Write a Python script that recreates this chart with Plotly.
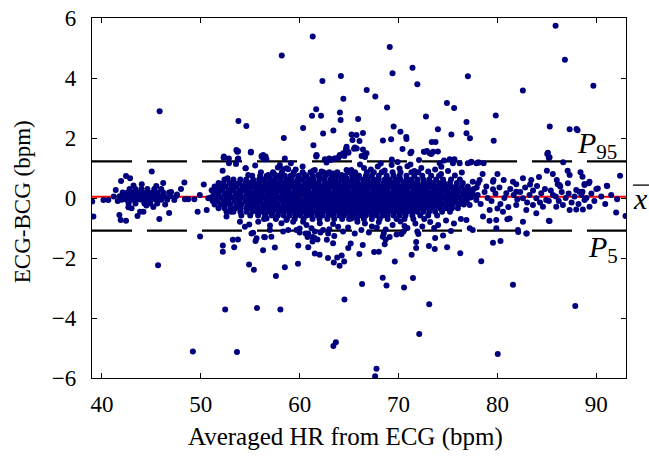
import plotly.graph_objects as go

# ---------------- data ----------------
mean_diff = 0.04
p95 = 1.22
p5 = -1.09

x_ticks = [40, 50, 60, 70, 80, 90]
y_ticks = [-6, -4, -2, 0, 2, 4, 6]

# outliers above the P95 band
hi_x = [85.88, 61.32, 58.19, 69.11, 86.82, 71.41, 69.39, 77.01, 64.17, 62.30, 71.90, 89.70, 82.57, 66.78,
        67.65, 64.42, 45.84, 74.89, 75.62, 68.84, 61.67, 64.07, 61.25, 62.16, 72.77, 79.83, 65.91, 64.14,
        53.81, 76.87, 54.61, 85.29, 69.50, 60.35, 87.30, 88.00, 88.10, 73.98, 63.41, 62.37, 70.19, 65.25,
        66.40, 75.34, 76.87, 70.78, 70.80, 58.40, 66.05, 68.42, 69.25, 77.22, 73.36, 73.74, 79.62, 61.39,
        64.73, 64.70, 65.50, 65.77, 66.40, 70.40, 71.20, 72.56, 72.87, 73.32, 73.98, 53.77, 55.06, 52.31,
        53.74, 56.17, 56.42, 56.63, 61.67, 64.52, 63.90, 63.03, 62.71, 66.26, 66.61, 85.04, 85.20, 69.32,
        72.07, 75.65, 74.60,
        52.84, 53.79, 53.69, 55.07, 56.31, 56.55, 58.50, 61.70, 63.15, 63.55, 64.06, 64.39, 64.90, 52.34,
        53.60, 56.15, 56.48, 62.55, 62.98, 63.56, 63.99, 64.67, 64.74, 64.94, 65.58, 65.34, 65.75, 61.71,
        72.65, 73.15, 73.50, 71.30, 66.50, 66.76, 85.10, 85.27, 75.17]
hi_y = [5.74, 5.38, 4.75, 5.03, 4.61, 4.34, 4.16, 4.06, 4.07, 3.90, 3.79, 3.74, 3.58, 3.60,
        3.38, 3.31, 2.89, 3.17, 3.00, 3.02, 2.96, 2.85, 2.74, 2.74, 2.72, 2.75, 2.63, 2.60,
        2.57, 2.53, 2.40, 2.38, 2.38, 2.33, 2.29, 2.30, 2.26, 2.29, 2.25, 2.15, 2.21, 2.12,
        2.17, 2.12, 2.16, 2.03, 1.97, 2.00, 1.90, 1.92, 1.96, 1.99, 1.87, 1.87, 1.91, 1.76,
        1.66, 1.58, 1.64, 1.65, 1.62, 1.63, 1.49, 1.54, 1.57, 1.47, 1.55, 1.56, 1.52, 1.34,
        1.29, 1.37, 1.31, 1.29, 1.38, 1.40, 1.33, 1.31, 1.27, 1.40, 1.37, 1.47, 1.33, 1.28,
        1.27, 1.29, 1.25,
        1.32, 1.32, 1.54, 1.54, 1.43, 1.38, 1.32, 1.43, 1.27, 1.32, 1.43, 1.49, 1.54, 1.38,
        1.60, 1.40, 1.32, 1.29, 1.32, 1.32, 1.38, 1.60, 1.71, 1.51, 1.68, 1.93, 2.10, 1.42,
        1.54, 1.49, 1.54, 1.54, 1.43, 1.49, 1.51, 1.36, 1.29]

# outliers below the P5 band
lo_x = [45.68, 49.93, 52.23, 52.23, 53.38, 54.88, 55.37, 52.47, 55.68, 58.05, 49.20, 53.66, 57.60, 58.50,
        57.49, 56.30, 55.54, 56.41, 57.14, 59.83, 59.86, 60.87, 61.53, 62.02, 62.86, 63.45, 63.80, 64.04,
        64.25, 64.50, 63.38, 62.75, 64.91, 65.16, 66.03, 66.38, 64.53, 66.31, 68.40, 68.78, 69.62, 67.53,
        68.01, 68.60, 68.70, 69.10, 70.56, 71.46, 71.32, 71.78, 71.78, 73.10, 72.09, 73.07, 73.66, 73.70,
        74.91, 76.24, 78.36, 79.55, 80.31, 81.57, 80.03, 87.87, 82.96, 63.41, 63.66, 67.77, 67.63,
        53.24, 53.76, 55.30, 60.00, 60.60, 60.80, 61.30, 61.30, 61.80, 62.10, 61.50, 63.50, 70.30, 70.50,
        71.90, 68.40, 68.50, 82.10, 55.13, 55.64, 56.99, 56.48, 58.84, 58.33, 59.68, 61.20, 60.86, 61.53,
        62.37, 62.88, 64.39, 65.57, 66.24, 67.00, 69.80, 72.00, 74.50, 75.30, 82.92, 77.50]
lo_y = [-2.24, -1.28, -1.58, -1.79, -1.64, -2.22, -2.39, -3.72, -3.67, -3.72, -5.12, -5.13, -2.60, -2.31,
        -1.65, -1.74, -1.43, -1.30, -1.29, -2.19, -1.58, -1.64, -1.85, -1.89, -2.00, -2.15, -1.98, -2.26,
        -1.92, -2.12, -1.51, -1.39, -1.67, -1.52, -1.87, -1.57, -3.38, -2.87, -2.66, -2.92, -2.12, -1.80,
        -1.79, -1.54, -1.38, -1.30, -2.98, -2.67, -1.89, -1.67, -1.47, -3.54, -4.53, -1.60, -1.70, -1.33,
        -1.64, -1.84, -2.11, -1.49, -1.43, -2.89, -5.20, -3.60, -1.18, -4.93, -4.81, -5.69, -5.94,
        -1.39, -1.38, -1.16, -1.15, -1.18, -1.30, -1.30, -1.45, -1.38, -1.15, -1.33, -1.27, -1.20, -1.12,
        -1.12, -1.29, -1.18, -1.13, -1.18, -1.34, -1.07, -1.31, -1.07, -1.12, -1.07, -1.01, -1.18, -1.12,
        -1.07, -1.18, -1.12, -1.18, -1.07, -1.15, -1.22, -1.20, -1.25, -1.10, -1.18, -1.07]

# scattered points between the limits, around the dense band
mid_x = [52.21, 52.85, 53.56, 54.54, 56.08, 58.00, 58.33, 58.68, 59.11, 56.82, 57.32, 61.37, 61.87, 62.21,
         62.78, 63.39, 64.23, 64.74, 60.69, 54.53, 54.80, 56.65, 57.42, 58.84, 58.00, 59.34, 59.90, 60.52,
         61.53, 62.04, 63.72, 64.73, 65.23, 65.74, 52.71, 66.50, 67.20, 67.90, 68.60, 69.30, 70.10, 70.90,
         71.60, 72.30, 73.00, 73.70, 74.30, 75.00, 75.70, 76.40, 74.16, 74.33, 75.50, 76.18, 77.36, 78.03,
         78.60, 62.71, 60.30, 59.60, 57.80, 55.50, 66.10, 68.20, 69.90, 71.20,
         52.60, 53.05, 53.96, 54.46, 55.81, 56.65, 57.15, 58.16, 58.67, 59.34, 60.35, 60.69, 62.04, 63.38,
         63.89, 64.90, 65.84, 65.23, 66.60, 67.30, 68.00, 68.70, 69.40, 70.20, 70.90, 71.70, 72.40, 73.20,
         74.00, 74.80, 75.60, 76.30, 76.86, 77.20, 54.90, 57.00, 60.00, 63.00, 67.80, 70.60, 73.60]
mid_y = [0.91, 1.16, 1.13, 0.99, 0.86, 1.10, 0.96, 0.99, 1.16, 0.77, 0.82, 0.91, 0.77, 0.88,
         0.82, 0.82, 0.77, 0.93, 0.71, 0.99, 0.77, 0.73, 0.80, 0.96, 0.73, 0.77, 0.71, 0.77,
         0.93, 0.71, 0.73, 0.66, 0.93, 0.77, 0.66, 1.00, 0.95, 1.05, 0.92, 1.10, 0.98, 1.06,
         0.90, 1.00, 0.88, 0.95, 0.80, 0.90, 0.75, 0.85, 1.16, 1.04, 1.16, 1.16, 1.21, 1.18,
         1.16, 1.18, 1.05, 0.95, 1.02, 1.08, 1.12, 1.15, 1.20, 1.12,
         -0.62, -0.46, -0.79, -0.96, -0.79, -0.68, -0.57, -0.84, -0.73, -0.79, -0.79, -0.90, -0.84, -0.87,
         -0.96, -0.98, -0.79, -0.68, -0.85, -0.95, -0.80, -1.05, -0.90, -0.78, -1.00, -0.85, -0.95, -0.80,
         -0.90, -0.75, -0.85, -0.70, -0.73, -1.01, -0.88, -0.92, -1.02, -1.04, -0.98, -0.93, -1.00]

# low-HR group (39-52 bpm)
left_x = [39.02, 39.14, 40.16, 40.65, 41.40, 41.77, 42.44, 41.90, 42.68, 43.00, 43.86, 44.20, 45.81, 47.32,
          49.68, 50.60, 48.40, 48.74, 49.35, 50.76, 42.44, 42.85, 41.94, 45.04, 44.03, 48.34, 51.33, 51.77,
          52.28, 46.20, 45.50, 43.20, 41.20, 41.60, 44.50, 45.20, 46.40, 47.00, 47.60, 48.00, 49.90, 50.30,
          43.60, 46.80,
          42.80, 43.40, 44.00, 44.60, 45.30, 46.00,
          42.10, 42.60, 43.10, 43.60, 44.10, 44.60, 45.10, 45.60, 46.20, 46.80,
          41.80, 42.30, 42.80, 43.30, 43.80, 44.30, 44.80, 45.30, 45.80, 46.30, 46.90, 47.50,
          42.00, 42.50, 43.00, 43.50, 44.00, 44.50, 45.00, 45.50, 46.00, 46.60,
          42.70, 43.40, 44.30, 44.90, 45.60]
left_y = [-0.12, -0.62, -0.07, -0.07, 0.27, -0.57, -0.76, -0.73, -0.31, -0.34, -0.46, -0.46, -0.70, -0.07,
          -0.46, -0.40, -0.04, -0.04, -0.04, -0.01, 0.73, 0.66, 0.57, 0.88, 0.46, 0.52, 0.04, 0.27,
          0.43, 0.50, 0.40, 0.42, 0.05, -0.10, -0.25, -0.30, -0.22, 0.20, 0.12, 0.30, 0.10, 0.45,
          -0.60, -0.50,
          0.30, 0.30, 0.30, 0.30, 0.30, 0.30,
          0.18, 0.18, 0.18, 0.18, 0.18, 0.18, 0.18, 0.18, 0.18, 0.18,
          0.06, 0.06, 0.06, 0.06, 0.06, 0.06, 0.06, 0.06, 0.06, 0.06, 0.06, 0.06,
          -0.06, -0.06, -0.06, -0.06, -0.06, -0.06, -0.06, -0.06, -0.06, -0.06,
          -0.18, -0.18, -0.18, -0.18, -0.18]

# high-HR group (77-93 bpm)
right_x = [78.87, 79.55, 80.90, 81.64, 81.90, 82.58, 83.25, 83.93, 84.43, 84.93, 85.61, 86.28, 87.12, 87.97,
           88.81, 89.31, 90.15, 91.10, 92.10, 92.00, 92.95, 77.19, 77.87, 78.54, 79.21, 79.88, 80.56, 81.23,
           81.90, 82.58, 82.92, 83.59, 83.93, 84.60, 85.27, 85.95, 86.62, 87.30, 87.97, 88.64, 88.81, 89.31,
           86.65, 88.40, 88.60, 92.40, 85.00, 85.60, 87.10, 87.30, 91.06, 90.00, 89.24, 88.80, 82.58, 83.42,
           81.57, 81.90, 80.63, 79.60, 78.50, 77.50, 77.87, 78.13, 77.00, 77.30, 78.03, 79.55, 79.20, 88.30,
           88.60, 86.10, 86.35, 85.20, 82.07, 81.00, 79.89,
           77.60, 78.00, 78.30, 78.70, 79.00, 79.40, 79.80, 80.20, 80.30, 80.70, 81.10, 81.30, 82.00, 82.30,
           82.80, 83.00, 83.60, 84.00, 84.30, 84.80, 85.20, 85.40, 85.90, 86.20, 86.50, 86.90, 87.20, 87.50,
           87.80, 88.20, 88.50, 89.00, 89.50, 89.80, 90.50, 90.90, 91.50, 77.40, 77.90, 78.20, 80.00, 83.30,
           86.00, 84.20, 80.00]
right_y = [0.38, 0.54, 0.16, 0.10, 0.21, -0.01, 0.10, -0.01, 0.16, -0.07, 0.10, 0.43, 0.49, 0.27,
           0.43, 0.54, 0.32, 0.40, -0.04, -0.48, -0.60, -0.23, -0.07, -0.62, -0.40, -0.73, -0.46, -0.68,
           -0.23, -0.79, -0.40, -0.23, -0.51, -0.29, -0.77, -0.29, -0.23, -0.40, -0.38, -0.38, -0.07, -0.29,
           1.19, 0.86, 0.71, 0.74, 0.91, 0.80, 0.91, 0.77, 0.41, 0.30, 0.49, 0.47, 0.66, 0.60,
           0.54, 0.46, 0.60, 0.60, 0.80, 0.54, 1.16, 1.18, 1.16, 1.18, 0.49, 0.29, -0.76, 0.21,
           0.21, 0.46, 0.38, -0.76, -1.07, -0.71, -1.01,
           0.30, 0.10, -0.20, 0.20, 0.00, -0.10, 0.15, 0.35, -0.20, 0.00, -0.30, 0.30, -0.05, 0.20,
           0.35, -0.15, 0.25, 0.40, -0.15, 0.30, -0.10, 0.25, 0.05, -0.10, 0.20, 0.00, 0.15, -0.15,
           0.05, -0.20, 0.10, 0.00, 0.15, -0.10, 0.05, -0.20, 0.10, 0.05, 0.35, 0.60, -0.35, 0.45,
           0.60, 0.70, 0.80]

# dense band (51-77 bpm): rows of HR values at each difference level
core_rows = [
    (0.86, [57.3, 58.2, 59.4, 60.3, 61.1, 62.4, 63.0, 63.8, 64.9, 65.6, 66.8, 67.5, 68.3, 69.4, 70.2, 71.3, 72.0]),
    (0.74, [55.2, 56.0, 57.0, 57.8, 58.5, 59.1, 59.9, 60.6, 61.3, 61.9, 62.6, 63.2, 64.0, 64.6, 65.3, 66.0,
            66.7, 67.3, 68.0, 68.8, 69.5, 70.1, 70.8, 71.6, 72.4, 73.3, 74.1]),
    (0.62, [52.4, 53.3, 54.0, 54.6, 55.3, 55.9, 56.4, 57.0, 57.5, 58.1, 58.7, 59.2, 59.8, 60.3, 60.9, 61.4,
            62.0, 62.5, 63.1, 63.6, 64.2, 64.7, 65.3, 65.8, 66.4, 66.9, 67.5, 68.0, 68.6, 69.1, 69.7, 70.2,
            70.8, 71.3, 71.9, 72.5, 73.1, 73.8, 74.5, 75.3, 76.2]),
    (0.50, [51.8, 52.3, 52.9, 53.4, 53.9, 54.5, 55.0, 55.4, 55.9, 56.5, 57.0, 57.4, 57.9, 58.5, 59.0, 59.4,
            59.9, 60.5, 61.0, 61.4, 61.9, 62.5, 63.0, 63.4, 63.9, 64.5, 65.0, 65.4, 65.9, 66.5, 67.0, 67.4,
            67.9, 68.5, 69.0, 69.4, 69.9, 70.5, 71.0, 71.4, 71.9, 72.5, 73.0, 73.5, 74.1, 74.6, 75.2, 75.9, 76.5]),
    (0.38, [51.4, 51.9, 52.5, 53.1, 53.6, 54.2, 54.7, 55.2, 55.7, 56.2, 56.7, 57.2, 57.7, 58.2, 58.7, 59.2,
            59.7, 60.2, 60.7, 61.2, 61.7, 62.2, 62.7, 63.2, 63.7, 64.2, 64.7, 65.2, 65.7, 66.2, 66.7, 67.2,
            67.7, 68.2, 68.7, 69.2, 69.7, 70.2, 70.7, 71.2, 71.7, 72.2, 72.7, 73.2, 73.7, 74.3, 74.8, 75.3,
            75.8, 76.4, 77.0]),
    (0.26, [51.1, 51.6, 52.2, 52.8, 53.3, 53.9, 54.4, 54.9, 55.5, 56.0, 56.4, 56.9, 57.5, 58.0, 58.4, 58.9,
            59.5, 60.0, 60.4, 60.9, 61.5, 62.0, 62.4, 62.9, 63.5, 64.0, 64.4, 64.9, 65.5, 66.0, 66.4, 66.9,
            67.5, 68.0, 68.4, 68.9, 69.5, 70.0, 70.4, 70.9, 71.5, 72.0, 72.4, 72.9, 73.5, 74.0, 74.5, 75.0,
            75.6, 76.1, 76.7, 77.2]),
    (0.14, [51.3, 51.8, 52.4, 52.9, 53.5, 54.0, 54.6, 55.1, 55.6, 56.1, 56.7, 57.2, 57.7, 58.3, 58.8, 59.3,
            59.8, 60.3, 60.8, 61.3, 61.8, 62.3, 62.8, 63.3, 63.8, 64.3, 64.8, 65.3, 65.8, 66.3, 66.8, 67.3,
            67.8, 68.3, 68.8, 69.3, 69.8, 70.3, 70.8, 71.3, 71.8, 72.3, 72.8, 73.3, 73.8, 74.3, 74.9, 75.4,
            75.9, 76.5, 77.0, 77.5]),
    (0.02, [51.0, 51.5, 52.0, 52.6, 53.1, 53.7, 54.2, 54.8, 55.3, 55.8, 56.3, 56.9, 57.4, 57.9, 58.5, 59.0,
            59.5, 60.0, 60.6, 61.1, 61.6, 62.1, 62.6, 63.1, 63.6, 64.1, 64.6, 65.1, 65.6, 66.1, 66.6, 67.1,
            67.6, 68.1, 68.6, 69.1, 69.6, 70.1, 70.6, 71.1, 71.6, 72.1, 72.6, 73.1, 73.6, 74.1, 74.6, 75.1,
            75.7, 76.2, 76.8, 77.3]),
    (-0.10, [51.2, 51.7, 52.3, 52.8, 53.4, 53.9, 54.5, 55.0, 55.5, 56.0, 56.6, 57.1, 57.6, 58.2, 58.7, 59.2,
             59.7, 60.2, 60.7, 61.2, 61.7, 62.2, 62.7, 63.2, 63.7, 64.2, 64.7, 65.2, 65.7, 66.2, 66.7, 67.2,
             67.7, 68.2, 68.7, 69.2, 69.7, 70.2, 70.7, 71.2, 71.7, 72.2, 72.7, 73.2, 73.7, 74.2, 74.8, 75.3,
             75.8, 76.4, 76.9]),
    (-0.22, [51.4, 52.0, 52.5, 53.0, 53.6, 54.1, 54.7, 55.2, 55.7, 56.3, 56.8, 57.3, 57.8, 58.4, 58.9, 59.4,
             59.9, 60.4, 60.9, 61.4, 61.9, 62.4, 62.9, 63.4, 63.9, 64.4, 64.9, 65.4, 65.9, 66.4, 66.9, 67.4,
             67.9, 68.4, 68.9, 69.4, 69.9, 70.4, 70.9, 71.4, 71.9, 72.4, 72.9, 73.4, 73.9, 74.4, 75.0, 75.5,
             76.1, 76.6]),
    (-0.34, [51.8, 52.4, 53.0, 53.5, 54.0, 54.6, 55.1, 55.6, 56.1, 56.6, 57.1, 57.6, 58.1, 58.6, 59.1, 59.6,
             60.1, 60.6, 61.1, 61.6, 62.1, 62.6, 63.1, 63.6, 64.1, 64.6, 65.1, 65.6, 66.1, 66.6, 67.1, 67.6,
             68.1, 68.6, 69.1, 69.6, 70.1, 70.6, 71.1, 71.6, 72.1, 72.6, 73.1, 73.6, 74.2, 74.8, 75.4, 76.0]),
    (-0.46, [52.6, 53.3, 54.0, 54.6, 55.2, 55.7, 56.2, 56.8, 57.3, 57.9, 58.4, 58.9, 59.4, 59.9, 60.4, 60.9,
             61.4, 61.9, 62.4, 62.9, 63.4, 63.9, 64.4, 64.9, 65.4, 65.9, 66.4, 66.9, 67.4, 67.9, 68.4, 68.9,
             69.4, 69.9, 70.4, 70.9, 71.4, 71.9, 72.5, 73.1, 73.7, 74.4, 75.2]),
    (-0.58, [54.1, 55.0, 55.8, 56.5, 57.2, 57.8, 58.4, 59.0, 59.6, 60.1, 60.7, 61.2, 61.8, 62.3, 62.9, 63.4,
             64.0, 64.5, 65.1, 65.6, 66.2, 66.7, 67.3, 67.8, 68.4, 68.9, 69.5, 70.1, 70.7, 71.4, 72.2, 73.0, 73.9]),
    (-0.70, [56.4, 57.6, 58.7, 59.5, 60.4, 61.3, 62.0, 62.8, 63.5, 64.3, 65.0, 65.8, 66.5, 67.3, 68.1, 68.9,
             69.8, 70.6, 71.5, 72.6]),
]

# ---------------- assemble ----------------
all_x = hi_x + lo_x + mid_x + left_x + right_x
all_y = hi_y + lo_y + mid_y + left_y + right_y
for yv, xs in core_rows:
    all_x += xs
    all_y += [yv] * len(xs)

FONT = "Liberation Serif"
DOT = "#00007f"

fig = go.Figure()
fig.add_trace(go.Scatter(
    x=all_x, y=all_y, mode="markers",
    marker=dict(size=6, color=DOT, line=dict(width=0)),
    showlegend=False, hoverinfo="skip", cliponaxis=True,
))

# reference lines (drawn beneath the points)
fig.add_shape(type="line", xref="paper", yref="y", x0=0, x1=1, y0=mean_diff, y1=mean_diff,
              line=dict(color="#ff0000", width=2), layer="below")
for lvl in (p95, p5):
    fig.add_shape(type="line", xref="paper", yref="y", x0=0, x1=1, y0=lvl, y1=lvl,
                  line=dict(color="black", width=2.2, dash="40px,15px"), layer="below")

# labels of the lines
fig.add_annotation(text="<i>P</i><sub>95</sub>", xref="paper", yref="y", x=0.987, y=p95 + 0.55,
                   xanchor="right", yanchor="middle", showarrow=False,
                   font=dict(family=FONT, size=30, color="black"))
fig.add_annotation(text="<i>P</i><sub>5</sub>", xref="paper", yref="y", x=0.989, y=p5 - 0.62,
                   xanchor="right", yanchor="middle", showarrow=False,
                   font=dict(family=FONT, size=30, color="black"))
fig.add_annotation(text="<i>x</i>", xref="paper", yref="y", x=1.028, y=mean_diff - 0.05,
                   xanchor="center", yanchor="middle", showarrow=False,
                   font=dict(family=FONT, size=30, color="black"))
fig.add_shape(type="line", xref="paper", yref="y", x0=1.013, x1=1.043, y0=0.43, y1=0.43,
              line=dict(color="black", width=1.3))

# axis titles
fig.add_annotation(text="Averaged HR from ECG (bpm)", xref="paper", yref="paper", x=0.474, y=-0.165,
                   xanchor="center", yanchor="middle", showarrow=False,
                   font=dict(family=FONT, size=25, color="black"))
fig.add_annotation(text="ECG-BCG (bpm)", xref="paper", yref="paper", x=-0.13, y=0.49,
                   xanchor="center", yanchor="middle", textangle=-90, showarrow=False,
                   font=dict(family=FONT, size=23, color="black"))

axis_common = dict(showline=True, linecolor="black", linewidth=1.3, mirror="allticks",
                   ticks="inside", ticklen=5, tickwidth=1.2, tickcolor="black",
                   showgrid=False, zeroline=False, automargin=False,
                   tickfont=dict(family=FONT, size=23, color="black"))
fig.update_xaxes(range=[39, 93], tickvals=x_ticks, ticklabelstandoff=5, **axis_common)
fig.update_yaxes(range=[-6, 6], tickvals=y_ticks, ticklabelstandoff=10, **axis_common)

fig.update_layout(width=649, height=457, margin=dict(l=92, r=23, t=18, b=79),
                  paper_bgcolor="white", plot_bgcolor="white")

fig.write_html("out.html")
